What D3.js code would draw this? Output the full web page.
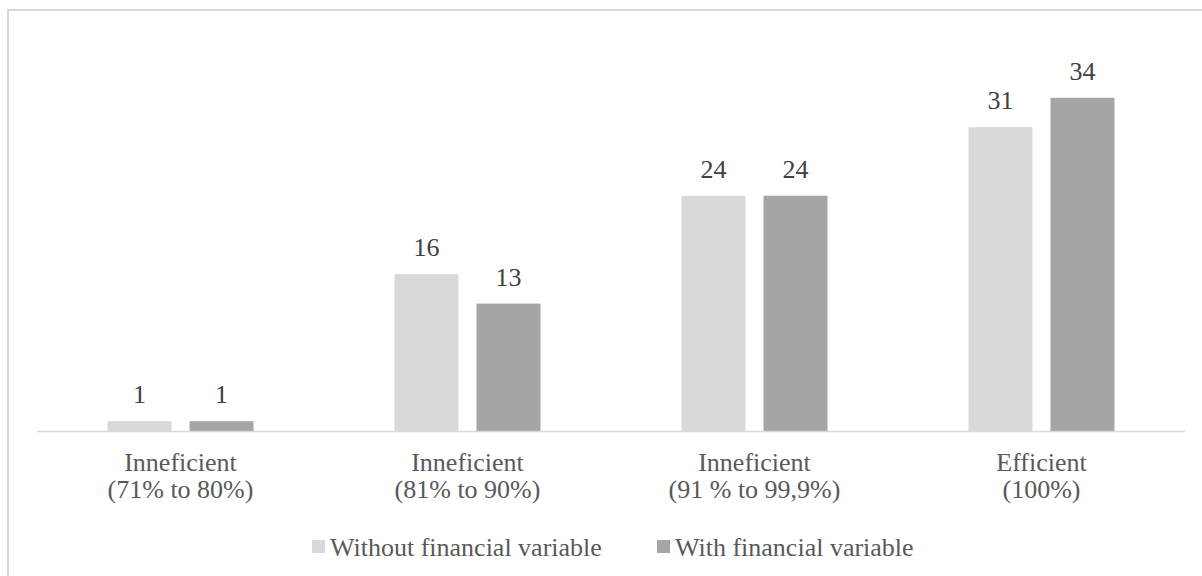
<!DOCTYPE html>
<html>
<head>
<meta charset="utf-8">
<script src="https://cdn.jsdelivr.net/npm/d3@7"></script>
<style>
	html, body { margin: 0; padding: 0; background: #fff; }
	svg { display: block; }
</style>
</head>
<body>
<svg id="chart" width="1202" height="576" font-family="'Liberation Serif', 'Times New Roman', Times, serif" fill="#595959"></svg>
<script>

var categories = [
	['Inneficient', '(71% to 80%)'],
	['Inneficient', '(81% to 90%)'],
	['Inneficient', '(91 % to 99,9%)'],
	['Efficient', '(100%)']
];
var seriesNames = ['Without financial variable', 'With financial variable'];
var withoutFinancial = [1, 16, 24, 31];
var withFinancial = [1, 13, 24, 34];
var colors = ['#d9d9d9', '#a5a5a5'];

var svg = d3.select('#chart');
var W = 1202, H = 576;
var FONT = "'Liberation Serif', 'Times New Roman', Times, serif";

// chart frame (only top/left visible in the crop)
svg.append('rect')
	.attr('x', 8).attr('y', 10)
	.attr('width', W + 10).attr('height', H + 10)
	.attr('fill', 'none')
	.attr('stroke', '#d9d9d9')
	.attr('stroke-width', 2);

var plotLeft = 37, plotRight = 1185, plotTop = 39, base = 431;
var idx = d3.range(categories.length);
var series = [withoutFinancial, withFinancial];

var x0 = d3.scaleBand().domain(idx).range([plotLeft, plotRight]);
var x1 = d3.scaleBand().domain([0, 1]).range([0, x0.bandwidth()]).paddingInner(0.2195).paddingOuter(0.86);
var y = d3.scaleLinear().domain([0, 40]).range([base, plotTop]);

var groups = svg.append('g').selectAll('g')
	.data(idx)
	.join('g')
	.attr('transform', function(d) { return 'translate(' + x0(d) + ',0)'; });

groups.selectAll('rect')
	.data(function(d) { return series.map(function(s, k) { return { k: k, v: s[d] }; }); })
	.join('rect')
	.attr('x', function(d) { return x1(d.k); })
	.attr('y', function(d) { return y(d.v); })
	.attr('width', x1.bandwidth())
	.attr('height', function(d) { return base - y(d.v); })
	.attr('fill', function(d) { return colors[d.k]; });

groups.selectAll('text.val')
	.data(function(d) { return series.map(function(s, k) { return { k: k, v: s[d] }; }); })
	.join('text')
	.attr('class', 'val')
	.attr('x', function(d) { return x1(d.k) + x1.bandwidth() / 2; })
	.attr('y', function(d) { return y(d.v) - 18; })
	.attr('text-anchor', 'middle')
	.attr('font-family', FONT)
	.attr('font-size', 26)
	.attr('fill', '#404040')
	.text(function(d) { return d.v; });

// baseline
svg.append('line')
	.attr('x1', plotLeft).attr('x2', plotRight)
	.attr('y1', base + 0.5).attr('y2', base + 0.5)
	.attr('stroke', '#d9d9d9')
	.attr('stroke-width', 1.5);

// category labels
var lab = svg.append('g').selectAll('text')
	.data(idx)
	.join('text')
	.attr('text-anchor', 'middle')
	.attr('font-family', FONT)
	.attr('font-size', 26)
	.attr('fill', '#595959');

lab.selectAll('tspan')
	.data(function(d) { return categories[d].map(function(t) { return { t: t, c: d }; }); })
	.join('tspan')
	.attr('x', function(d) { return x0(d.c) + x0.bandwidth() / 2; })
	.attr('y', function(d, i) { return 471 + i * 26.5; })
	.text(function(d) { return d.t; });

// legend
var legendX = [312, 657];
var leg = svg.append('g').selectAll('g')
	.data(seriesNames)
	.join('g')
	.attr('transform', function(d, i) { return 'translate(' + legendX[i] + ',540)'; });

leg.append('rect')
	.attr('width', 13).attr('height', 13)
	.attr('fill', function(d, i) { return colors[i]; });

leg.append('text')
	.attr('x', 18).attr('y', 16)
	.attr('font-family', FONT)
	.attr('font-size', 26)
	.attr('fill', '#595959')
	.text(function(d) { return d; });

</script>
</body>
</html>
